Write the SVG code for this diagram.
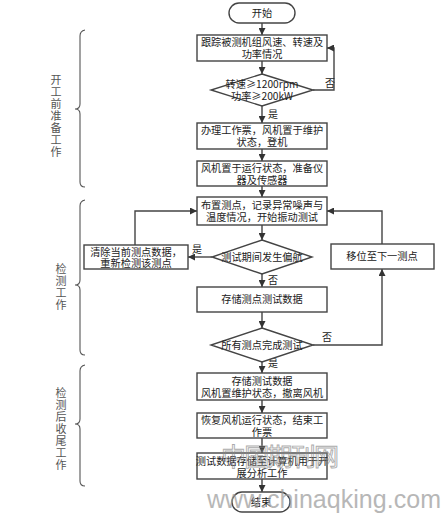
<svg xmlns="http://www.w3.org/2000/svg" width="446" height="516" viewBox="0 0 446 516">
<defs>
<marker id="ah" viewBox="0 0 10 10" refX="10" refY="5" markerWidth="7" markerHeight="7" orient="auto" markerUnits="userSpaceOnUse">
<path d="M0,0 L10,5 L0,10 z" fill="#333"/>
</marker>
<style>
.box{fill:#fff;stroke:#444;stroke-width:1.4}
.t{font-family:"Noto Sans CJK SC","Liberation Serif",serif;font-size:10.2px;fill:#222;text-anchor:middle}
.lbl{font-family:"Noto Sans CJK SC","Liberation Serif",serif;font-size:10px;fill:#222}
.side{font-family:"Noto Sans CJK SC","Liberation Serif",serif;font-size:11px;fill:#555;text-anchor:middle}
.ln{fill:none;stroke:#444;stroke-width:1.4}
.br{fill:none;stroke:#555;stroke-width:1.1}
</style>
</defs>
<rect width="446" height="516" fill="#fff"/>

<g id="brackets">
<path class="br" d="M85,30 Q80,31 80,36 L80,104 Q80,109 75,109 Q80,109 80,114 L80,182 Q80,187 85,187"/>
<path class="br" d="M85,200 Q80,201 80,206 L80,280 Q80,285 75,285 Q80,285 80,290 L80,350 Q80,355 85,355"/>
<path class="br" d="M85,365 Q80,366 80,371 L80,419 Q80,424 75,424 Q80,424 80,429 L80,481 Q80,486 85,486"/>
<text class="side" x="56" y="84">开</text>
<text class="side" x="56" y="96">工</text>
<text class="side" x="56" y="108">前</text>
<text class="side" x="56" y="120">准</text>
<text class="side" x="56" y="132">备</text>
<text class="side" x="56" y="144">工</text>
<text class="side" x="56" y="156">作</text>
<text class="side" x="61" y="273">检</text>
<text class="side" x="61" y="285">测</text>
<text class="side" x="61" y="297">工</text>
<text class="side" x="61" y="309">作</text>
<text class="side" x="61" y="397">检</text>
<text class="side" x="61" y="409">测</text>
<text class="side" x="61" y="421">后</text>
<text class="side" x="61" y="433">收</text>
<text class="side" x="61" y="445">尾</text>
<text class="side" x="61" y="457">工</text>
<text class="side" x="61" y="469">作</text>
</g>

<g id="connectors">
<line class="ln" x1="262" y1="23" x2="262" y2="35" marker-end="url(#ah)"/>
<line class="ln" x1="262" y1="61" x2="262" y2="74" marker-end="url(#ah)"/>
<polyline class="ln" points="313,90 334,90 334,48 327,48" marker-end="url(#ah)"/>
<line class="ln" x1="262" y1="106" x2="262" y2="123" marker-end="url(#ah)"/>
<line class="ln" x1="262" y1="149" x2="262" y2="161" marker-end="url(#ah)"/>
<line class="ln" x1="262" y1="186" x2="262" y2="197" marker-end="url(#ah)"/>
<line class="ln" x1="262" y1="225" x2="262" y2="240" marker-end="url(#ah)"/>
<line class="ln" x1="212" y1="257" x2="188" y2="257" marker-end="url(#ah)"/>
<polyline class="ln" points="135,245 135,211 197,211" marker-end="url(#ah)"/>
<line class="ln" x1="262" y1="274" x2="262" y2="287" marker-end="url(#ah)"/>
<line class="ln" x1="262" y1="312" x2="262" y2="328" marker-end="url(#ah)"/>
<polyline class="ln" points="313,345 382,345 382,269" marker-end="url(#ah)"/>
<polyline class="ln" points="382,244 382,211 327,211" marker-end="url(#ah)"/>
<line class="ln" x1="262" y1="362" x2="262" y2="373" marker-end="url(#ah)"/>
<line class="ln" x1="262" y1="400" x2="262" y2="413" marker-end="url(#ah)"/>
<line class="ln" x1="262" y1="438" x2="262" y2="453" marker-end="url(#ah)"/>
<line class="ln" x1="262" y1="479" x2="262" y2="492" marker-end="url(#ah)"/>
<text class="lbl" x="325" y="87">否</text>
<text class="lbl" x="268" y="118">是</text>
<text class="lbl" x="192" y="253">是</text>
<text class="lbl" x="268" y="284">否</text>
<text class="lbl" x="322" y="341">否</text>
<text class="lbl" x="268" y="367">是</text>
</g>

<g id="start">
<rect class="box" x="229" y="3" width="66" height="20" rx="10"/>
<text class="t" x="262" y="17">开始</text>
</g>
<g id="track">
<rect class="box" x="197" y="35" width="130" height="26"/>
<text class="t" x="262" y="46">跟踪被测机组风速、转速及</text>
<text class="t" x="262" y="58">功率情况</text>
</g>
<g id="cond1">
<polygon class="box" points="262,74 313,90 262,106 211,90"/>
<text class="t" x="262" y="88" font-size="9.2">转速≥1200rpm</text>
<text class="t" x="262" y="100" font-size="9.2">功率≥200kW</text>
</g>
<g id="ticket">
<rect class="box" x="197" y="123" width="130" height="26"/>
<text class="t" x="262" y="134">办理工作票，风机置于维护</text>
<text class="t" x="262" y="146">状态，登机</text>
</g>
<g id="prepare">
<rect class="box" x="197" y="161" width="130" height="25"/>
<text class="t" x="262" y="172">风机置于运行状态，准备仪</text>
<text class="t" x="262" y="184">器及传感器</text>
</g>
<g id="layout">
<rect class="box" x="197" y="197" width="130" height="28"/>
<text class="t" x="262" y="209">布置测点，记录异常噪声与</text>
<text class="t" x="262" y="221">温度情况，开始振动测试</text>
</g>
<g id="cond2">
<polygon class="box" points="262,240 312,257 262,274 212,257"/>
<text class="t" x="262" y="261">测试期间发生偏航</text>
</g>
<g id="clear">
<rect class="box" x="84" y="245" width="104" height="24"/>
<text class="t" x="136" y="256">清除当前测点数据，</text>
<text class="t" x="136" y="267">重新检测该测点</text>
</g>
<g id="store">
<rect class="box" x="197" y="287" width="130" height="25"/>
<text class="t" x="262" y="303">存储测点测试数据</text>
</g>
<g id="cond3">
<polygon class="box" points="262,328 313,345 262,362 211,345"/>
<text class="t" x="262" y="349">所有测点完成测试</text>
</g>
<g id="move">
<rect class="box" x="331" y="244" width="103" height="25"/>
<text class="t" x="382" y="260">移位至下一测点</text>
</g>
<g id="save">
<rect class="box" x="197" y="373" width="130" height="27"/>
<text class="t" x="262" y="385">存储测试数据</text>
<text class="t" x="262" y="397">风机置维护状态，撤离风机</text>
</g>
<g id="restore">
<rect class="box" x="197" y="413" width="130" height="25"/>
<text class="t" x="262" y="424">恢复风机运行状态，结束工</text>
<text class="t" x="262" y="436">作票</text>
</g>
<g id="analyze">
<rect class="box" x="197" y="453" width="130" height="26"/>
<text class="t" x="262" y="465">测试数据存储至计算机用于开</text>
<text class="t" x="262" y="477">展分析工作</text>
</g>
<g id="end">
<rect class="box" x="232" y="492" width="58" height="20" rx="10"/>
<text class="t" x="261" y="506">结束</text>
</g>

<g id="watermark" opacity="0.7">
<text x="221" y="466" font-family="Noto Sans CJK SC,sans-serif" font-size="25" textLength="118" fill="none" stroke="#888" stroke-width="0.9">中国期刊网</text>
<text x="207" y="508" font-family="Liberation Sans,sans-serif" font-size="25" textLength="234" fill="#999">www.chinaqking.com</text>
</g>
</svg>
